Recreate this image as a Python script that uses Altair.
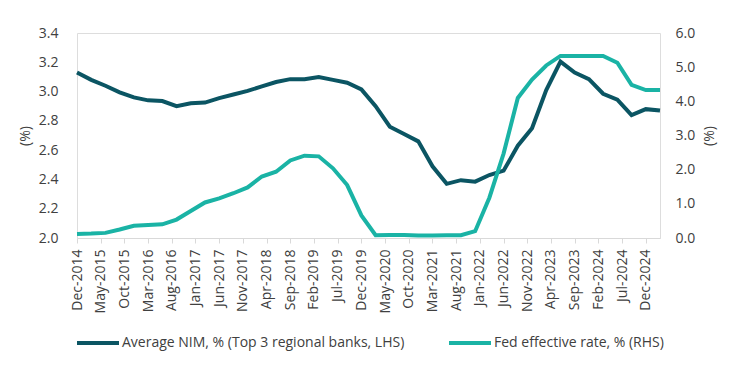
import json
import altair as alt
import pandas as pd

tick_labels = [
    "Dec-2014", "May-2015", "Oct-2015", "Mar-2016", "Aug-2016", "Jan-2017",
    "Jun-2017", "Nov-2017", "Apr-2018", "Sep-2018", "Feb-2019", "Jul-2019",
    "Dec-2019", "May-2020", "Oct-2020", "Mar-2021", "Aug-2021", "Jan-2022",
    "Jun-2022", "Nov-2022", "Apr-2023", "Sep-2023", "Feb-2024", "Jul-2024",
    "Dec-2024",
]

nim = [3.13, 3.08, 3.04, 2.995, 2.96, 2.94, 2.935, 2.90, 2.92, 2.925, 2.955,
       2.98, 3.005, 3.035, 3.065, 3.085, 3.085, 3.10, 3.08, 3.06, 3.015, 2.90,
       2.76, 2.71, 2.66, 2.49, 2.37, 2.395, 2.385, 2.43, 2.46, 2.63, 2.75,
       3.01, 3.205, 3.13, 3.085, 2.985, 2.945, 2.84, 2.88, 2.87]

fed = [0.12, 0.13, 0.15, 0.25, 0.36, 0.38, 0.40, 0.54, 0.79, 1.04, 1.16,
       1.31, 1.48, 1.80, 1.94, 2.27, 2.41, 2.39, 2.04, 1.55, 0.66, 0.08,
       0.09, 0.09, 0.07, 0.07, 0.08, 0.08, 0.20, 1.18, 2.47, 4.10, 4.64,
       5.05, 5.33, 5.33, 5.33, 5.33, 5.13, 4.48, 4.33, 4.33]

series_names = ["Average NIM, % (Top 3 regional banks, LHS)", "Fed effective rate, % (RHS)"]
colors = ["#0b5563", "#1ab3a5"]

left_ticks = [2.0, 2.2, 2.4, 2.6, 2.8, 3.0, 3.2, 3.4]
right_ticks = [0.0, 1.0, 2.0, 3.0, 4.0, 5.0, 6.0]

months = [3 * i for i in range(len(nim))]
df = pd.DataFrame({
    "m": months + months,
    "v": nim + fed,
    "s": [series_names[0]] * len(nim) + [series_names[1]] * len(fed),
})

FONT = "Open Sans"
TXT = "#404040"
FS = 14

x_enc = alt.X(
    "m:Q",
    scale=alt.Scale(domain=[0, 123], nice=False, zero=False),
    axis=alt.Axis(
        values=list(range(0, 121, 5)),
        labelExpr=json.dumps(tick_labels) + "[round(datum.value / 5)]",
        labelAngle=-90,
        title=None,
        grid=False,
        domainColor="#d9d9d9",
        tickColor="#d9d9d9",
        tickSize=5,
        labelPadding=6,
        labelFontSize=FS,
        labelColor=TXT,
        labelFont=FONT,
        labelOverlap=False,
    ),
)

color_enc = alt.Color(
    "s:N",
    scale=alt.Scale(domain=series_names, range=colors),
    legend=alt.Legend(
        title=None,
        orient="none",
        direction="horizontal",
        legendX=-2,
        legendY=287,
        symbolType="stroke",
        symbolSize=1764,
        symbolStrokeWidth=4,
        labelFont=FONT,
        labelFontSize=FS,
        labelColor=TXT,
        labelOffset=1,
        labelLimit=0,
        columnPadding=36,
        padding=0,
    ),
)

base = alt.Chart(df)

left = base.transform_filter(alt.datum.s == series_names[0]).mark_line(strokeWidth=4).encode(
    x=x_enc,
    y=alt.Y(
        "v:Q",
        scale=alt.Scale(domain=[2.0, 3.4], nice=False, zero=False),
        axis=alt.Axis(
            values=left_ticks, format=".1f", orient="left", title="(%)",
            grid=False, domain=False, ticks=False, labelPadding=19,
            labelFontSize=FS, labelColor=TXT, labelFont=FONT,
            titleFont=FONT, titleFontSize=FS, titleColor=TXT,
            titleFontWeight="normal", titlePadding=6,
        ),
    ),
    color=color_enc,
)

right = base.transform_filter(alt.datum.s == series_names[1]).mark_line(strokeWidth=4).encode(
    x=x_enc,
    y=alt.Y(
        "v:Q",
        scale=alt.Scale(domain=[0, 6], nice=False, zero=False),
        axis=alt.Axis(
            values=right_ticks, format=".1f", orient="right", title="(%)",
            grid=False, domain=False, ticks=False, labelPadding=15,
            labelFontSize=FS, labelColor=TXT, labelFont=FONT,
            titleFont=FONT, titleFontSize=FS, titleColor=TXT,
            titleFontWeight="normal", titlePadding=8, titleAngle=270,
            titleBaseline="top",
        ),
    ),
    color=color_enc,
)

chart = alt.layer(left, right).resolve_scale(y="independent").properties(
    width=583,
    height=205,
    autosize=alt.AutoSizeParams(type="none"),
    padding={"left": 69, "top": 25, "right": 62, "bottom": 123},
).configure_view(stroke=None).configure(background="white")

chart.save("out.html", embed_options={"renderer": "svg", "actions": False})
